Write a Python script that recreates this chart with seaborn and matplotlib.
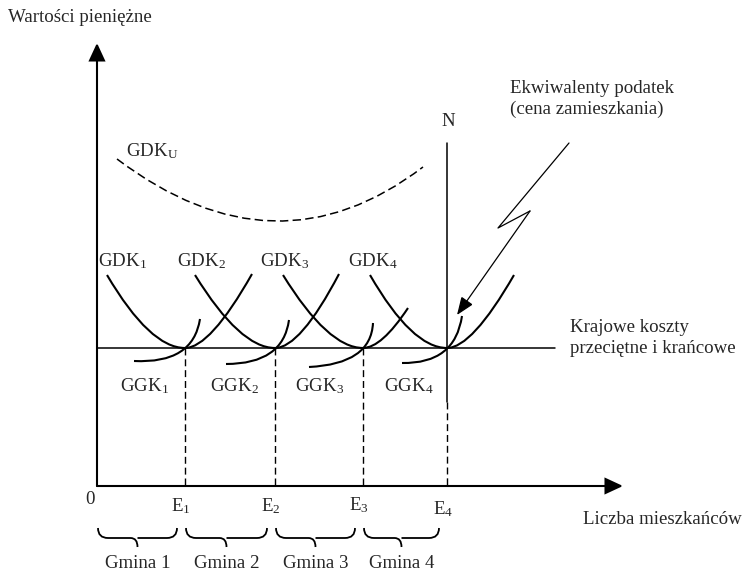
import matplotlib
matplotlib.use("Agg")
import matplotlib.pyplot as plt
import seaborn as sns
import pandas as pd
from matplotlib.path import Path
from matplotlib.patches import PathPatch, FancyArrowPatch

sns.set_theme(style="white")
plt.rcParams["font.family"] = ["Liberation Serif", "DejaVu Serif"]
plt.rcParams["mathtext.fontset"] = "custom"
plt.rcParams["mathtext.rm"] = "Liberation Serif"
plt.rcParams["mathtext.it"] = "Liberation Serif:italic"

# ============================================================
# Diagram data (data units ~ pixels, origin at the axes corner)
# ============================================================
cost_level = 138                       # national average = marginal cost
e_pos = [88, 178, 266, 350]            # E1..E4 on the x axis
e_labels = ["1", "2", "3", "4"]
gmina_names = ["Gmina 1", "Gmina 2", "Gmina 3", "Gmina 4"]

# GDK (average cost) curves: left start x, right end x, right end y
gdk_left_x = [10, 98, 186, 273]
gdk_top_y = 211
gdk_right_x = [155, 242, 311, 417]
gdk_right_y = [212, 212, 178, 211]
gdk_label_x = [1, 80, 163, 251]

# GGK (marginal cost) curves: start and end points
ggk_start = [(37, 125), (129, 122), (212, 119), (305, 123)]
ggk_end = [(103, 167), (192, 166), (276, 163), (365, 170)]
ggk_label_x = [23, 113, 198, 287]

# GDK_U dashed curve (start, control, end)
gdku_pts = [(20, 327), (179, 207), (326, 319)]

# lightning-shaped arrow pointing at the N point
bolt_x = [472, 401, 433]
bolt_y = [343, 258, 275]
bolt_tip = (360, 171)

n_line_top = 343
n_line_solid_bottom = 84
x_axis_end = 526
y_axis_end = 443
cost_line_end = 458

# ============================================================
# Figure
# ============================================================
fig = plt.figure(figsize=(7.44, 5.71), dpi=100)
ax = fig.add_axes([0, 0, 1, 1])
ax.set_xlim(-97, 647)
ax.set_ylim(-85, 486)
ax.axis("off")

FS = 13.6
LW = 1.5


def quad(p0, p1, p2, **kw):
    path = Path([p0, p1, p2], [Path.MOVETO, Path.CURVE3, Path.CURVE3])
    ax.add_patch(PathPatch(path, fill=False, capstyle="butt", **kw))


def arrow(p0, p1, hl, hw, lw):
    ax.add_patch(FancyArrowPatch(p0, p1, arrowstyle=f"-|>,head_length={hl},head_width={hw}",
                                 mutation_scale=1, shrinkA=0, shrinkB=0,
                                 color="black", lw=lw, joinstyle="miter"))


# axes with arrow heads
arrow((0, 0), (0, y_axis_end), 10.8, 5.0, LW)
arrow((0, 0), (x_axis_end, 0), 10.8, 5.0, LW)

# national cost line
cost_df = pd.DataFrame({"x": [0, cost_line_end], "y": [cost_level, cost_level]})
sns.lineplot(data=cost_df, x="x", y="y", ax=ax, color="black", lw=1.1, sort=False, estimator=None)

# vertical N line (solid) and dashed drop lines
sns.lineplot(x=[e_pos[3], e_pos[3]], y=[n_line_top, n_line_solid_bottom], ax=ax,
             color="black", lw=1.1, sort=False, estimator=None)
for i, e in enumerate(e_pos):
    top = n_line_solid_bottom if i == 3 else cost_level
    ax.plot([e, e], [top, 0], color="black", lw=1.0, dashes=(5, 2.8))

# GDK curves
for i, e in enumerate(e_pos):
    quad((gdk_left_x[i], gdk_top_y), (e - 35, cost_level), (e, cost_level), color="black", lw=LW)
    frac = (gdk_right_y[i] - cost_level) / (gdk_top_y - cost_level)
    quad((e, cost_level), (e + 25 * frac ** 0.5, cost_level), (gdk_right_x[i], gdk_right_y[i]),
         color="black", lw=LW)

# GGK curves
for i, e in enumerate(e_pos):
    quad(ggk_start[i], (e + 8, cost_level - 16), ggk_end[i], color="black", lw=LW)

# GDK_U dashed
quad(*gdku_pts, color="black", lw=1.1, linestyle=(0, (5.5, 2.8)))

# lightning arrow
sns.lineplot(x=bolt_x, y=bolt_y, ax=ax, color="black", lw=0.9, sort=False, estimator=None)
arrow((bolt_x[-1], bolt_y[-1]), bolt_tip, 11.0, 4.3, 0.9)

# braces under the x axis
bounds = [0] + e_pos
for i in range(4):
    x0, x1 = bounds[i] + 1, bounds[i + 1] - 8
    mid = (x0 + x1) / 2
    verts = [(x0, -42), (x0, -52), (x0 + 10, -52), (mid - 7, -52), (mid, -52), (mid, -61),
             (mid, -52), (mid + 7, -52), (x1 - 10, -52), (x1, -52), (x1, -42)]
    codes = [Path.MOVETO, Path.CURVE3, Path.CURVE3, Path.LINETO, Path.CURVE3, Path.CURVE3,
             Path.MOVETO, Path.LINETO, Path.LINETO, Path.CURVE3, Path.CURVE3]
    ax.add_patch(PathPatch(Path(verts, codes), fill=False, color="black", lw=1.3))
    ax.text(mid, -78, gmina_names[i], ha="center", va="center", fontsize=FS)

# texts
ax.text(-89, 468, "Wartości pieniężne", ha="left", va="center", fontsize=FS)
ax.text(29, 335, r"GDK$_\mathrm{U}$", ha="left", va="center", fontsize=FS)
for i in range(4):
    ax.text(gdk_label_x[i], 225, rf"GDK$_\mathrm{{{e_labels[i]}}}$", ha="left", va="center", fontsize=FS)
    ax.text(ggk_label_x[i], 100, rf"GGK$_\mathrm{{{e_labels[i]}}}$", ha="left", va="center", fontsize=FS)
e_label_y = [-20, -20, -19, -23]
for i, e in enumerate(e_pos):
    ax.text(e - 14, e_label_y[i], rf"E$_\mathrm{{{e_labels[i]}}}$", ha="left", va="center", fontsize=FS)
ax.text(-7, -13, "0", ha="center", va="center", fontsize=FS)
ax.text(351, 364, "N", ha="center", va="center", fontsize=FS)
ax.text(413, 387, "Ekwiwalenty podatek\n(cena zamieszkania)", ha="left", va="center",
        fontsize=FS, linespacing=1.3)
ax.text(473, 148, "Krajowe koszty\nprzeciętne i krańcowe", ha="left", va="center",
        fontsize=FS, linespacing=1.25)
ax.text(486, -33, "Liczba mieszkańców", ha="left", va="center", fontsize=FS)

fig.savefig("out.png", dpi=100)
